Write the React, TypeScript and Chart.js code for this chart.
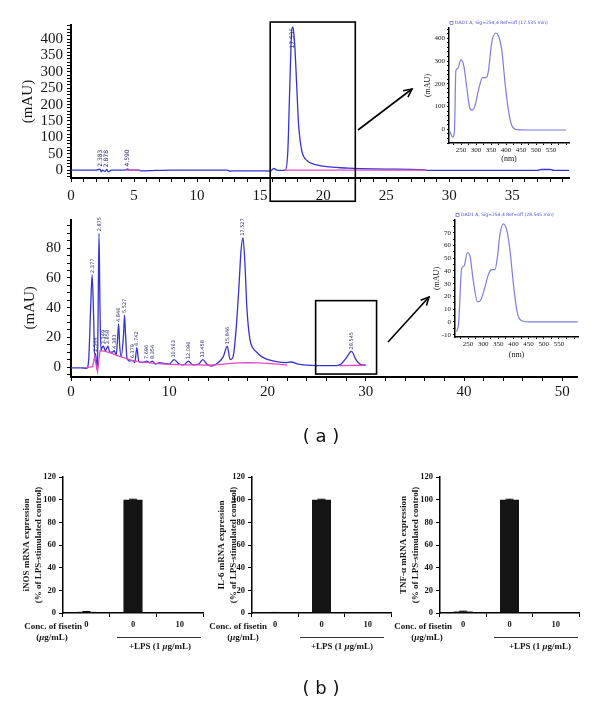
import React, { useEffect, useRef } from "react";
import { Chart, registerables } from "chart.js";

Chart.register(...registerables);

const SERIF = "'Liberation Serif', 'Times New Roman', serif";
const SANS = "'DejaVu Sans', Verdana, sans-serif";
const INK = "#151515";
const BLUE = "#3434cf";
const PINK = "#e447c6";
const SPEC = "#7c7ce6";

// ---------- (a) upper chromatogram: retention time (min) vs mAU ----------
const topTime = [0, 1, 2, 2.3, 2.4, 2.5, 2.7, 2.85, 2.95, 3.2, 4.3, 4.5, 4.6, 5.4, 5.5, 8, 12.4, 12.6, 13, 15, 15.8, 16.1, 16.3, 16.6, 17.0, 17.2, 17.35, 17.5, 17.6, 17.75, 17.9, 18.05, 18.3, 18.7, 19.5, 20.5, 22, 23, 25, 28, 28.3, 30, 35, 37, 37.3, 38, 38.3, 39.5];
const topSignal = [0, 0, 0, 3, -5, 0, -4, 2, -5, 0, 0, 4, 0, 0, -2, 0, 0, -3, -2, -2, -3, 5, 0, -1, 0, 60, 250, 420, 437, 380, 260, 140, 60, 30, 16, 10, 6, 4.5, 3, 1, -1, -1, -1, -1, 2, 2, -1, -1];
const topBaseTime = [4.3, 5.5, 6, 16.9, 28.2];
const topBaseSignal = [0, 0, null, 0, 0];
const topPeakTime = [2.35, 2.85, 4.5, 17.55];
const topPeakText = ["2.383", "2.878", "4.590", "17.535"];
const topPeakHeight = [4, 3, 5, 365];
const topXLabels = [0, 5, 10, 15, 20, 25, 30, 35];
const topYLabels = [0, 50, 100, 150, 200, 250, 300, 350, 400];

// ---------- (a) lower chromatogram ----------
const botTime = [0, 1.0, 1.6, 1.8, 2.0, 2.15, 2.3, 2.4, 2.5, 2.6, 2.68, 2.75, 2.85, 2.95, 3.05, 3.15, 3.3, 3.5, 3.75, 3.95, 4.2, 4.4, 4.6, 4.75, 4.85, 4.95, 5.1, 5.35, 5.45, 5.55, 5.7, 6.0, 6.3, 6.5, 6.7, 6.9, 7.3, 7.7, 8.0, 8.3, 8.6, 9.0, 9.5, 10.0, 10.5, 11.0, 11.5, 11.95, 12.4, 13.0, 13.4, 13.9, 14.3, 15.0, 15.5, 15.9, 16.2, 16.5, 16.8, 17.1, 17.3, 17.5, 17.7, 17.9, 18.2, 18.5, 18.9, 19.4, 19.9, 20.9, 21.8, 22.4, 23.0, 24, 25, 26, 27, 27.5, 28.0, 28.55, 29.0, 29.4, 30.0];
const botSignal = [-0.5, -0.5, -0.8, 5, 40, 62, 35, 8, 9, 2, -2, 30, 90, 40, 11, 13, 14, 11, 14, 10, 10, 11, 8, 20, 29, 15, 7, 22, 35, 22, 6, 4, 4.5, 3, 13, 4, 3, 4, 3, 4, 2, 3, 2.5, 2, 5, 2, 1.5, 4, 1.5, 2, 5, 1.5, 0.7, 3, 7, 14, 5, 7, 25, 55, 78, 87, 70, 40, 19, 13, 10, 7, 5.3, 3.6, 3, 3.4, 2.2, 1.3, 1, 1, 1, 2, 6, 10.5, 5, 2, 1.3];
const botBaseTime = [1.4, 2.2, 2.4, 2.7, 2.95, 3.5, 4.0, 4.8, 5.5, 6.2, 7.0, 7.7, 8.5, 10, 11, 12, 13, 14, 15, 16, 17, 18, 19, 20, 21, 22, 24, 27.3, 30];
const botBaseSignal = [-0.5, 0.3, 7, -3, 11, 10.5, 9.5, 7.5, 6, 4.5, 3.5, 3.2, 2.5, 1.8, 1.6, 1.5, 1.5, 1.2, 1.6, 2.3, 2.8, 3, 2.8, 2.5, 2, 1.3, null, 1, 1.2];
const botPeakTime = [2.17, 2.5, 2.88, 3.3, 3.75, 4.4, 4.85, 5.45, 6.3, 6.7, 7.7, 8.3, 10.5, 11.95, 13.4, 15.9, 17.5, 28.55];
const botPeakText = ["2.377", "2.544", "2.875", "3.349", "3.858", "4.383", "4.846", "5.527", "6.379", "6.742", "7.696", "8.354", "10.563", "12.096", "13.458", "15.846", "17.527", "28.545"];
const botPeakHeight = [62, 9, 90, 14, 14, 11, 29, 35, 4.5, 13, 4, 4, 5, 4, 5, 14, 87, 10.5];
const botXLabels = [0, 10, 20, 30, 40, 50];
const botYLabels = [0, 20, 40, 60, 80];

// ---------- (a) UV spectra insets: wavelength (nm) vs mAU ----------
const topNm = [213, 216, 222, 228, 233, 239, 250, 260, 269, 280, 288, 297, 308, 322, 333, 341, 352, 365, 374, 386, 397, 408, 419, 436, 469, 600];
const topAbs = [-10, -19, -34, -12, 259, 267, 306, 274, 186, 91, 84, 105, 171, 227, 227, 252, 377, 423, 413, 347, 201, 84, 18, -1, -3, -3];
const botNm = [212, 219, 229, 237, 248, 257, 267, 281, 290, 303, 317, 328, 339, 347, 355, 366, 378, 388, 402, 413, 427, 454, 612];
const botAbs = [-7.6, -1, 42, 44, 54.5, 51, 33, 16, 16.5, 25, 37, 41, 41, 51, 68, 77, 72, 57, 25, 7, 1, 0, 0];
const nmLabels = [250, 300, 350, 400, 450, 500, 550];
const topSpecYLabels = [0, 100, 200, 300, 400];
const botSpecYLabels = [-10, 0, 10, 20, 30, 40, 50, 60, 70];
const topSpecLegend = "DAD1 A, Sig=254,4 Ref=off (17.535 min)";
const botSpecLegend = "DAD1 A, Sig=254,4 Ref=off (28.545 min)";

// ---------- (b) qRT-PCR bars ----------
const doseLabels = ["0", "0", "10"];
const barYLabels = [0, 20, 40, 60, 80, 100, 120];
const inosExpr = [1.0, 100, 0.3];
const inosErr = [0.3, 0.4, 0.1];
const il6Expr = [0.4, 100, 0.3];
const il6Err = [0.1, 0.4, 0.1];
const tnfExpr = [1.3, 100, 0.3];
const tnfErr = [0.3, 0.4, 0.1];

// ---------- helpers ----------
const pts = (xs: number[], ys: (number | null)[]) => xs.map((x, i) => ({ x, y: ys[i] }));
const steps = (a: number, b: number, s: number) => {
  const out: number[] = [];
  for (let v = a; v <= b + 1e-9; v += s) out.push(Math.round(v * 1000) / 1000);
  return out;
};
const fixW = (w: number) => (s: any) => { s.width = w; };
const fixH = (h: number) => (s: any) => { s.height = h; };
const setTicks = (vals: number[]) => (s: any) => { s.ticks = vals.map((v) => ({ value: v })); };
const onlyLabels = (labels: number[]) => (v: any) => (labels.includes(Number(v)) ? String(v) : "");

const rectPlugin = (x: number[], y: number[]) => ({
  id: "zoomBox",
  afterDraw(chart: any) {
    const { ctx, scales } = chart;
    const x0 = scales.x.getPixelForValue(x[0]);
    const x1 = scales.x.getPixelForValue(x[1]);
    const y0 = scales.y.getPixelForValue(y[1]);
    const y1 = scales.y.getPixelForValue(y[0]);
    ctx.save();
    ctx.strokeStyle = "#000";
    ctx.lineWidth = 1.6;
    ctx.strokeRect(x0, y0, x1 - x0, y1 - y0);
    ctx.restore();
  },
});

const peakPlugin = (times: number[], texts: string[], heights: number[], size: number) => ({
  id: "peakLabels",
  afterDatasetsDraw(chart: any) {
    const { ctx, scales } = chart;
    ctx.save();
    ctx.font = `${size}px ${SANS}`;
    ctx.fillStyle = "#1c1c6a";
    ctx.textAlign = "left";
    ctx.textBaseline = "middle";
    times.forEach((t, i) => {
      const px = scales.x.getPixelForValue(t);
      const py = scales.y.getPixelForValue(heights[i]) - 2;
      ctx.save();
      ctx.translate(px, py);
      ctx.rotate(-Math.PI / 2);
      ctx.fillText(texts[i], 0, 0);
      ctx.restore();
    });
    ctx.restore();
  },
});

const legendPlugin = (text: string) => ({
  id: "specLegend",
  afterDraw(chart: any) {
    const { ctx, chartArea } = chart;
    ctx.save();
    ctx.font = `4.5px ${SANS}`;
    ctx.fillStyle = "#4a4ad8";
    ctx.strokeStyle = "#4a4ad8";
    ctx.lineWidth = 0.6;
    const y = chartArea.top - 5;
    ctx.strokeRect(chartArea.left + 1, y - 1.5, 3, 3);
    ctx.textBaseline = "middle";
    ctx.fillText(text, chartArea.left + 6, y);
    ctx.restore();
  },
});

const errorPlugin = (errs: number[]) => ({
  id: "errBars",
  afterDatasetsDraw(chart: any) {
    const { ctx, scales } = chart;
    const meta = chart.getDatasetMeta(0);
    const vals = chart.data.datasets[0].data as number[];
    ctx.save();
    ctx.strokeStyle = "#000";
    ctx.lineWidth = 1;
    meta.data.forEach((el: any, i: number) => {
      const yt = scales.y.getPixelForValue(vals[i] + errs[i]);
      const yb = scales.y.getPixelForValue(Math.max(0, vals[i] - errs[i]));
      ctx.beginPath();
      ctx.moveTo(el.x, yb);
      ctx.lineTo(el.x, yt);
      ctx.moveTo(el.x - 4, yt);
      ctx.lineTo(el.x + 4, yt);
      ctx.stroke();
    });
    ctx.restore();
  },
});

function ChartBox({ left, top, width, height, make }: { left: number; top: number; width: number; height: number; make: () => any }) {
  const ref = useRef<HTMLCanvasElement>(null);
  useEffect(() => {
    const chart = new Chart(ref.current as HTMLCanvasElement, make());
    return () => chart.destroy();
  }, []);
  return (
    <div style={{ position: "absolute", left, top, width, height }}>
      <canvas ref={ref} width={width} height={height} style={{ display: "block", width, height }} />
    </div>
  );
}

const baseOpts = {
  responsive: false,
  animation: false,
  devicePixelRatio: 1,
  events: [],
  plugins: { legend: { display: false }, tooltip: { enabled: false } },
};

const axisCommon = (tickLen: number, bw: number) => ({
  grid: { display: true, drawOnChartArea: false, drawTicks: true, tickLength: tickLen, color: "#000", lineWidth: 1 },
  border: { display: true, color: "#000", width: bw },
});

function chromConfig(opts: {
  time: number[]; signal: number[]; baseTime: number[]; baseSignal: (number | null)[];
  xMax: number; xStep: number; xLabels: number[]; yMin: number; yMax: number; yStep: number; yLabels: number[];
  padTop: number; padRight: number; yWidth: number; xHeight: number; xPad: number; yPad: number; titlePad: number; yTitle: string;
  box: { x: number[]; y: number[] }; peaks: any;
}) {
  return {
    type: "line",
    data: {
      datasets: [
        { data: pts(opts.baseTime, opts.baseSignal), borderColor: PINK, borderWidth: 1.3, pointRadius: 0, spanGaps: false, tension: 0 },
        { data: pts(opts.time, opts.signal), borderColor: BLUE, borderWidth: 1.3, pointRadius: 0, cubicInterpolationMode: "monotone" },
      ],
    },
    options: {
      ...baseOpts,
      layout: { padding: { left: 0, right: opts.padRight, top: opts.padTop, bottom: 0 } },
      scales: {
        x: {
          type: "linear", min: 0, max: opts.xMax,
          afterBuildTicks: setTicks(steps(0, Math.floor(opts.xMax / opts.xStep) * opts.xStep, opts.xStep)),
          afterFit: fixH(opts.xHeight),
          ticks: { callback: onlyLabels(opts.xLabels), autoSkip: false, maxRotation: 0, padding: opts.xPad, color: INK, font: { family: SERIF, size: 15 } },
          ...axisCommon(4, 2),
        },
        y: {
          type: "linear", min: opts.yMin, max: opts.yMax,
          afterBuildTicks: setTicks(steps(Math.ceil(opts.yMin / opts.yStep) * opts.yStep, opts.yMax, opts.yStep)),
          afterFit: fixW(opts.yWidth),
          ticks: { callback: onlyLabels(opts.yLabels), autoSkip: false, padding: opts.yPad, color: INK, font: { family: SERIF, size: 15 } },
          title: { display: true, text: opts.yTitle, color: INK, font: { family: SERIF, size: 15 }, padding: { top: opts.titlePad, bottom: 0 } },
          ...axisCommon(4, 2),
        },
      },
    },
    plugins: [rectPlugin(opts.box.x, opts.box.y), opts.peaks],
  };
}

function specConfig(opts: {
  nm: number[]; abs: number[]; yMin: number; yMax: number; yStep: number; yLabels: number[];
  xMin: number; xMax: number; padTop: number; padRight: number; yWidth: number; xHeight: number; titlePad: number; legend: string;
}) {
  return {
    type: "line",
    data: { datasets: [{ data: pts(opts.nm, opts.abs), borderColor: SPEC, borderWidth: 1.2, pointRadius: 0, cubicInterpolationMode: "monotone" }] },
    options: {
      ...baseOpts,
      layout: { padding: { left: 0, right: opts.padRight, top: opts.padTop, bottom: 0 } },
      scales: {
        x: {
          type: "linear", min: opts.xMin, max: opts.xMax,
          afterBuildTicks: setTicks(steps(225, 600, 25)),
          afterFit: fixH(opts.xHeight),
          ticks: { callback: onlyLabels(nmLabels), autoSkip: false, maxRotation: 0, padding: 1, color: INK, font: { family: SERIF, size: 7 } },
          title: { display: true, text: "(nm)", color: INK, font: { family: SERIF, size: 8 }, padding: 0 },
          ...axisCommon(2, 1.5),
        },
        y: {
          type: "linear", min: opts.yMin, max: opts.yMax,
          afterBuildTicks: setTicks(steps(Math.ceil(opts.yMin / opts.yStep) * opts.yStep, opts.yMax, opts.yStep)),
          afterFit: fixW(opts.yWidth),
          ticks: { callback: onlyLabels(opts.yLabels), autoSkip: false, padding: 2, color: INK, font: { family: SERIF, size: 7 } },
          title: { display: true, text: "(mAU)", color: INK, font: { family: SERIF, size: 8 }, padding: { top: opts.titlePad, bottom: 0 } },
          ...axisCommon(2, 1.5),
        },
      },
    },
    plugins: [legendPlugin(opts.legend)],
  };
}

const BAR_FONT = 8.5;

function barConfig(opts: { vals: number[]; errs: number[]; title: string[]; yWidth: number; padRight: number; titlePad: number }) {
  return {
    type: "bar",
    data: { labels: doseLabels, datasets: [{ data: opts.vals, backgroundColor: "#141414", barPercentage: 0.41, categoryPercentage: 1 }] },
    options: {
      ...baseOpts,
      layout: { padding: { left: 0, right: opts.padRight, top: 12, bottom: 0 } },
      scales: {
        x: {
          afterFit: fixH(25),
          ticks: { autoSkip: false, maxRotation: 0, padding: 3, color: INK, font: { family: SERIF, size: BAR_FONT, weight: "bold" } },
          grid: { display: true, offset: true, drawOnChartArea: false, drawTicks: true, tickLength: 4, color: "#000", lineWidth: 1 },
          border: { display: true, color: "#000", width: 1.5 },
        },
        y: {
          type: "linear", min: 0, max: 120,
          afterBuildTicks: setTicks(barYLabels),
          afterFit: fixW(opts.yWidth),
          ticks: { autoSkip: false, padding: 3, color: INK, font: { family: SERIF, size: BAR_FONT, weight: "bold" } },
          title: { display: true, text: opts.title, color: INK, font: { family: SERIF, size: 9, weight: "bold", lineHeight: 1.3 }, padding: { top: opts.titlePad, bottom: 0 } },
          ...axisCommon(4, 1.5),
        },
      },
    },
    plugins: [errorPlugin(opts.errs)],
  };
}

const txt = (x: number, y: number, content: React.ReactNode, align: "left" | "center" | "right" = "center", extra: any = {}) => {
  const tx = align === "center" ? "-50%" : align === "right" ? "-100%" : "0";
  return (
    <div style={{ position: "absolute", left: x, top: y, transform: `translate(${tx}, -50%)`, whiteSpace: "nowrap", fontFamily: SERIF, fontWeight: "bold", fontSize: 9, color: INK, lineHeight: 1, ...extra }}>
      {content}
    </div>
  );
};

const mu = <i>μ</i>;

function DoseLegend({ concRight, unitCenter, lineLeft, lineRight, lpsCenter }: { concRight: number; unitCenter: number; lineLeft: number; lineRight: number; lpsCenter: number }) {
  return (
    <>
      {txt(concRight, 626, "Conc. of fisetin", "right")}
      {txt(unitCenter, 636.5, <>({mu}g/mL)</>, "center")}
      <div style={{ position: "absolute", left: lineLeft, top: 637, width: lineRight - lineLeft, height: 0, borderTop: "1px solid #333" }} />
      {txt(lpsCenter, 646, <>+LPS (1 {mu}g/mL)</>, "center")}
    </>
  );
}

function Arrow({ x1, y1, x2, y2 }: { x1: number; y1: number; x2: number; y2: number }) {
  const a = Math.atan2(y2 - y1, x2 - x1);
  const L = 9;
  const s = 0.45;
  const p1 = [x2 - L * Math.cos(a - s), y2 - L * Math.sin(a - s)];
  const p2 = [x2 - L * Math.cos(a + s), y2 - L * Math.sin(a + s)];
  return (
    <g stroke="#000" strokeWidth={1.6} fill="none">
      <line x1={x1} y1={y1} x2={x2} y2={y2} />
      <polyline points={`${p1[0]},${p1[1]} ${x2},${y2} ${p2[0]},${p2[1]}`} />
    </g>
  );
}

export default function App() {
  return (
    <div style={{ position: "absolute", left: 0, top: 0, width: 600, height: 702, background: "#fff", overflow: "hidden" }}>
      <ChartBox left={0} top={0} width={600} height={215} make={() => chromConfig({
        time: topTime, signal: topSignal, baseTime: topBaseTime, baseSignal: topBaseSignal,
        xMax: 39.5, xStep: 1, xLabels: topXLabels, yMin: -24, yMax: 443, yStep: 10, yLabels: topYLabels,
        padTop: 25, padRight: 31, yWidth: 71, xHeight: 37, xPad: 5, yPad: 4, titlePad: 19, yTitle: "(mAU)",
        box: { x: [15.8, 22.55], y: [-95, 452] },
        peaks: peakPlugin(topPeakTime, topPeakText, topPeakHeight, 6),
      })} />
      <ChartBox left={0} top={205} width={600} height={200} make={() => chromConfig({
        time: botTime, signal: botSignal, baseTime: botBaseTime, baseSignal: botBaseSignal,
        xMax: 51.5, xStep: 2, xLabels: botXLabels, yMin: -6.7, yMax: 99, yStep: 5, yLabels: botYLabels,
        padTop: 13, padRight: 23, yWidth: 71, xHeight: 28, xPad: 2, yPad: 6, titlePad: 21, yTitle: "(mAU)\u2003 ",
        box: { x: [24.9, 31.1], y: [-4.7, 44.7] },
        peaks: peakPlugin(botPeakTime, botPeakText, botPeakHeight, 5),
      })} />
      <ChartBox left={400} top={14} width={180} height={150} make={() => specConfig({
        nm: topNm, abs: topAbs, yMin: -60, yMax: 445, yStep: 20, yLabels: topSpecYLabels,
        xMin: 210, xMax: 610, padTop: 14, padRight: 11, yWidth: 49, xHeight: 21, titlePad: 23, legend: topSpecLegend,
      })} />
      <ChartBox left={405} top={205} width={185} height={155} make={() => specConfig({
        nm: botNm, abs: botAbs, yMin: -11.8, yMax: 80, yStep: 5, yLabels: botSpecYLabels,
        xMin: 207, xMax: 613, padTop: 15, padRight: 12, yWidth: 50, xHeight: 23, titlePad: 27, legend: botSpecLegend,
      })} />
      <svg width={600} height={702} style={{ position: "absolute", left: 0, top: 0, pointerEvents: "none" }}>
        <Arrow x1={358} y1={130} x2={412} y2={89} />
        <Arrow x1={388} y1={342} x2={429} y2={297} />
      </svg>
      <div style={{ position: "absolute", left: 321, top: 436, transform: "translate(-50%, -50%)", fontFamily: SANS, fontSize: 18, color: "#111", whiteSpace: "pre", lineHeight: 1 }}>( a )</div>

      <ChartBox left={0} top={465} width={215} height={173} make={() => barConfig({
        vals: inosExpr, errs: inosErr, title: ["iNOS mRNA expression", "(% of LPS-stimulated control)"], yWidth: 63, padRight: 12, titlePad: 21,
      })} />
      <ChartBox left={195} top={465} width={210} height={173} make={() => barConfig({
        vals: il6Expr, errs: il6Err, title: ["IL-6 mRNA expression", "(% of LPS-stimulated control)"], yWidth: 57, padRight: 14, titlePad: 21,
      })} />
      <ChartBox left={395} top={465} width={200} height={173} make={() => barConfig({
        vals: tnfExpr, errs: tnfErr, title: ["TNF-α mRNA expression", "(% of LPS-stimulated control)"], yWidth: 45, padRight: 16, titlePad: 3,
      })} />
      <DoseLegend concRight={82} unitCenter={52} lineLeft={117} lineRight={201} lpsCenter={160} />
      <DoseLegend concRight={267} unitCenter={243} lineLeft={300} lineRight={384} lpsCenter={342} />
      <DoseLegend concRight={452} unitCenter={427} lineLeft={494} lineRight={578} lpsCenter={540} />
      <div style={{ position: "absolute", left: 321, top: 688, transform: "translate(-50%, -50%)", fontFamily: SANS, fontSize: 18, color: "#111", whiteSpace: "pre", lineHeight: 1 }}>( b )</div>
    </div>
  );
}
